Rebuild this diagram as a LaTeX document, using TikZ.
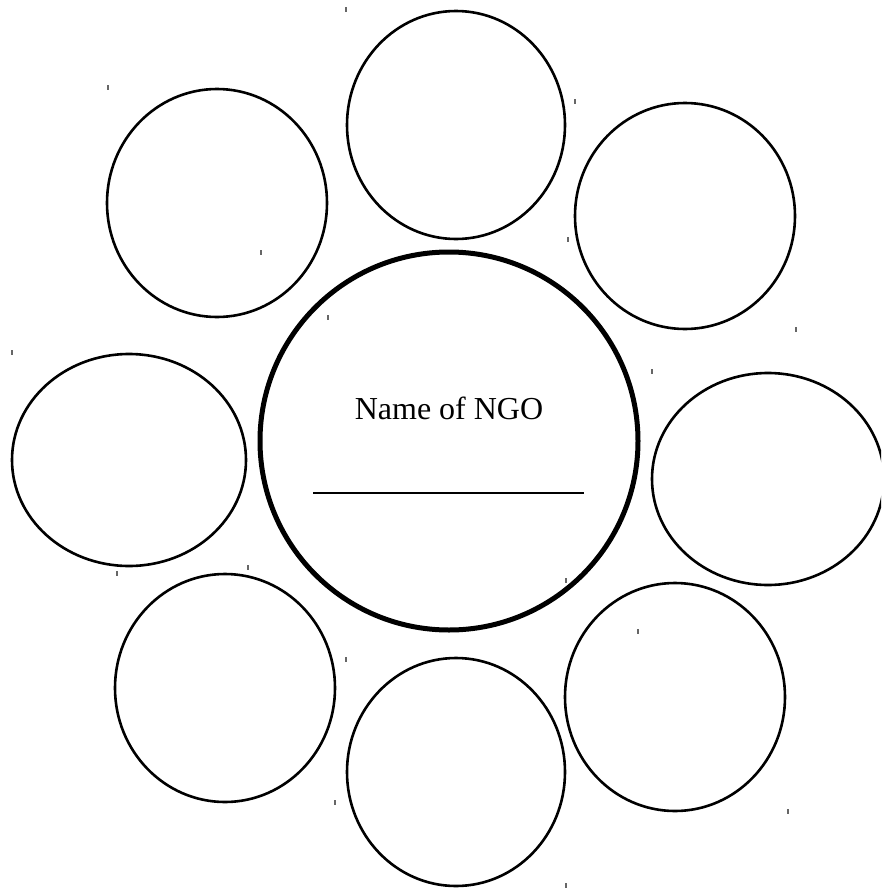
\documentclass[tikz,border=0pt]{standalone}
\usepackage{fontspec}
\setmainfont{Liberation Serif}
\begin{document}
\begin{tikzpicture}[x=1pt,y=-1pt,
  petal/.style={draw=black,line width=2.6pt},
  hub/.style={draw=black,line width=5pt},
  tick/.style={draw=black!60,line width=1.3pt}]
\useasboundingbox (0,0) rectangle (881,889);
\begin{scope}
\clip (0,0) rectangle (881,889);
% central circle
\draw[hub] (449,441) circle [radius=189];
% surrounding circles
\draw[petal] (456,125) ellipse [x radius=109, y radius=114];
\draw[petal] (685,216) ellipse [x radius=110, y radius=113];
\draw[petal] (217,203) ellipse [x radius=110, y radius=114];
\draw[petal] (129,460) ellipse [x radius=117, y radius=106];
\draw[petal] (768,479) ellipse [x radius=116, y radius=106];
\draw[petal] (225,688) ellipse [x radius=110, y radius=114];
\draw[petal] (456,772) ellipse [x radius=109, y radius=114];
\draw[petal] (675,697) ellipse [x radius=110, y radius=114];
\end{scope}
\node[font=\fontsize{32}{38}\selectfont,inner sep=0pt] (title) at (449,408) {Name of NGO};
\coordinate (ls) at (313,493);
\coordinate (le) at (584,493);
\draw[line width=1.6pt] (ls) -- (le);
% small marks
\foreach \x/\y in {346/7,108/85,575/99,261/250,568/237,328/315,796/327,12/350,652/369,117/571,248/565,566/578,638/629,346/657,335/800,788/809,566/883}
  \draw[tick] (\x,\y) -- ++(0,5);
\end{tikzpicture}
\end{document}
